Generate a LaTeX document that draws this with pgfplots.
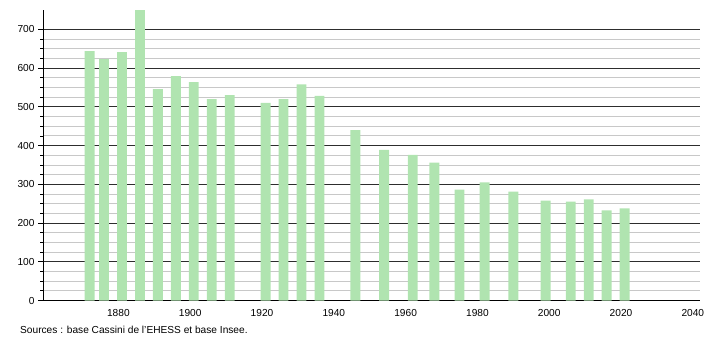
\documentclass[border=0pt]{standalone}
\usepackage{pgfplots}
\pgfplotsset{compat=1.18}
\usepackage{fontspec}
\setmainfont{Liberation Sans}
\definecolor{bargreen}{RGB}{176,228,176}
\definecolor{majgrid}{RGB}{45,45,45}
\definecolor{mingrid}{RGB}{200,200,200}
\begin{document}
\begin{tikzpicture}[x=1bp,y=1bp]
\path[use as bounding box] (0,0) rectangle (710,340);
\begin{axis}[
  at={(43bp,39.5bp)}, anchor=south west,
  scale only axis, width=657bp, height=290.5bp,
  xmin=1859, xmax=2042, ymin=0, ymax=750,
  axis lines*=left,
  axis line style={black, line width=0.9pt},
  xtick={1880,1900,...,2040},
  ytick={0,100,...,700},
  minor y tick num=3,
  ymajorgrids, yminorgrids,
  major grid style={majgrid, line width=0.8pt},
  minor grid style={mingrid, line width=0.8pt},
  tick align=outside,
  x tick style={draw=none},
  y tick style={black, line width=0.7pt},
  major tick length=5bp, minor tick length=3bp,
  /pgf/number format/1000 sep={},
  /pgf/number format/assume math mode=true,
  tick label style={font=\fontsize{10.2}{12}\selectfont},
  clip=true,
]
\addplot[ybar, bar width=2.75, fill=bargreen, draw=none] coordinates {
(1872,644) (1876,623) (1881,641) (1886,760) (1891,546) (1896,579)
(1901,564) (1906,520) (1911,530) (1921,510) (1926,520) (1931,558)
(1936,528) (1946,440) (1954,389) (1962,376) (1968,356) (1975,286)
(1982,305) (1990,281) (1999,258) (2006,255) (2011,261) (2016,233)
(2021,238)
};
\end{axis}
\node[anchor=west, font=\fontsize{10.2}{12}\selectfont, inner sep=0pt] at (20,10) {Sources : base Cassini de l'EHESS et base Insee.};
\end{tikzpicture}
\end{document}
